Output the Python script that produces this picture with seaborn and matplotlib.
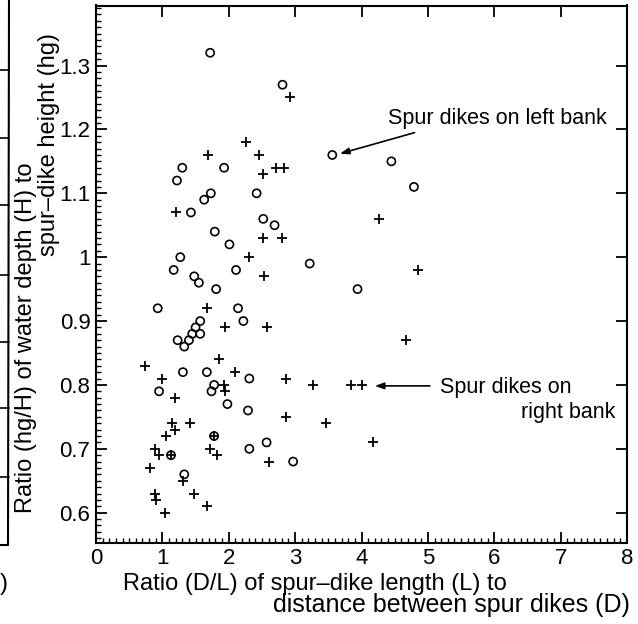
import matplotlib
matplotlib.use("Agg")
import matplotlib.pyplot as plt
from matplotlib.lines import Line2D
from matplotlib.ticker import MultipleLocator
import seaborn as sns
import pandas as pd

# Spur dikes on left bank (circles)
left_x = [1.72, 2.81, 1.30, 1.93, 1.22, 1.63, 1.73, 2.42, 1.43, 2.52, 2.69, 1.79,
          2.01, 1.27, 1.17, 1.48, 1.55, 2.11, 1.81, 3.22, 0.93, 2.14, 2.22, 1.57,
          1.50, 1.57, 1.45, 1.40, 1.23, 1.33, 1.31, 1.67, 2.31, 1.78, 1.74, 0.95,
          1.98, 2.29, 1.78, 2.57, 2.31, 1.13, 1.33, 2.97, 3.56, 4.45, 4.79, 3.94]
left_y = [1.32, 1.27, 1.14, 1.14, 1.12, 1.09, 1.10, 1.10, 1.07, 1.06, 1.05, 1.04,
          1.02, 1.00, 0.98, 0.97, 0.96, 0.98, 0.95, 0.99, 0.92, 0.92, 0.90, 0.90,
          0.89, 0.88, 0.88, 0.87, 0.87, 0.86, 0.82, 0.82, 0.81, 0.80, 0.79, 0.79,
          0.77, 0.76, 0.72, 0.71, 0.70, 0.69, 0.66, 0.68, 1.16, 1.15, 1.11, 0.95]

# Spur dikes on right bank (plus signs)
right_x = [2.93, 2.26, 1.68, 2.45, 2.71, 2.83, 2.52, 1.21, 2.52, 2.80, 2.31, 2.53,
           4.26, 4.85, 1.67, 1.95, 2.58, 4.67, 1.86, 0.74, 2.09, 1.00, 1.93, 1.94,
           1.19, 1.14, 1.42, 1.19, 1.06, 1.78, 0.89, 0.95, 1.13, 1.72, 1.83, 2.61,
           0.82, 1.31, 0.89, 0.90, 1.48, 1.67, 1.04, 2.86, 3.27, 3.84, 4.00, 2.86,
           3.46, 4.17]
right_y = [1.25, 1.18, 1.16, 1.16, 1.14, 1.14, 1.13, 1.07, 1.03, 1.03, 1.00, 0.97,
           1.06, 0.98, 0.92, 0.89, 0.89, 0.87, 0.84, 0.83, 0.82, 0.81, 0.80, 0.79,
           0.78, 0.74, 0.74, 0.73, 0.72, 0.72, 0.70, 0.69, 0.69, 0.70, 0.69, 0.68,
           0.67, 0.65, 0.63, 0.62, 0.63, 0.61, 0.60, 0.81, 0.80, 0.80, 0.80, 0.75,
           0.74, 0.71]

x_ticks = [0, 1, 2, 3, 4, 5, 6, 7, 8]
x_tick_labels = ["0", "1", "2", "3", "4", "5", "6", "7", "8"]
y_ticks = [0.6, 0.7, 0.8, 0.9, 1.0, 1.1, 1.2, 1.3]
y_tick_labels = ["0.6", "0.7", "0.8", "0.9", "1", "1.1", "1.2", "1.3"]

sns.set_theme(style="ticks", rc={
    "text.color": "black", "axes.labelcolor": "black",
    "xtick.color": "black", "ytick.color": "black",
    "axes.edgecolor": "black",
})
plt.rcParams["font.family"] = ["Liberation Sans", "DejaVu Sans"]

W, H = 638, 624
fig = plt.figure(figsize=(W / 100, H / 100), dpi=100)
fig.patch.set_facecolor("white")
ax_l, ax_r, ax_t, ax_b = 96, 627, 5.5, 542.7
ax = fig.add_axes([ax_l / W, 1 - ax_b / H, (ax_r - ax_l) / W, (ax_b - ax_t) / H])

df_left = pd.DataFrame({"DL": left_x, "hgH": left_y})
df_right = pd.DataFrame({"DL": right_x, "hgH": right_y})

sns.scatterplot(data=df_left, x="DL", y="hgH", marker="o", s=34,
                facecolor="none", edgecolor="black", linewidth=1.2, ax=ax, zorder=3)
sns.scatterplot(data=df_right, x="DL", y="hgH", marker="+", s=48,
                color="black", linewidth=1.3, ax=ax, zorder=3)

ax.set_xlim(0, 8)
ax.set_ylim(0.553, 1.394)
ax.set_xticks(x_ticks, x_tick_labels)
ax.set_yticks(y_ticks, y_tick_labels)
ax.xaxis.set_minor_locator(MultipleLocator(0.1))
ax.yaxis.set_minor_locator(MultipleLocator(0.01))
ax.tick_params(which="major", direction="in", length=8, width=1.3,
               top=True, right=True, bottom=True, left=True,
               labelsize=16, pad=4)
ax.tick_params(which="minor", direction="in", length=3.3, width=1.0,
               top=False, right=False, bottom=True, left=True)
ax.set_xlabel("")
ax.set_ylabel("")
for sp in ax.spines.values():
    sp.set_linewidth(1.5)
    sp.set_color("black")

# annotations
arrow = dict(arrowstyle="-|>,head_length=0.45,head_width=0.16", color="black",
             lw=1.2, shrinkA=0, shrinkB=0)
ax.annotate("", xy=(3.675, 1.162), xytext=(4.80, 1.195), arrowprops=arrow)
ax.text(4.40, 1.2087, "Spur dikes on left bank", fontsize=15.5,
        ha="left", va="baseline")
ax.annotate("", xy=(4.20, 0.7985), xytext=(5.03, 0.7985), arrowprops=arrow)
ax.text(5.18, 0.788, "Spur dikes on", fontsize=15.5, ha="left", va="baseline")
ax.text(7.82, 0.748, "right bank", fontsize=15.5, ha="right", va="baseline")

# axis labels (staggered two-line layout)
fig.text(122.7 / W, 1 - 590 / H, "Ratio (D/L) of spur\u2013dike length (L) to",
         fontsize=17, ha="left", va="baseline")
fig.text(630 / W, 1 - 612 / H, "distance between spur dikes (D)",
         fontsize=18, ha="right", va="baseline")
fig.text(32 / W, 1 - 513 / H, "Ratio (hg/H) of water depth (H) to",
         fontsize=17, rotation=90, rotation_mode="anchor",
         ha="left", va="baseline")
fig.text(55 / W, 1 - 33 / H, "spur\u2013dike height (hg)",
         fontsize=17, rotation=90, rotation_mode="anchor",
         ha="right", va="baseline")

# edge of neighbouring panel visible at the left border
fig.add_artist(Line2D([9 / W, 8 / W], [1.0, 1 - 545 / H], color="black",
                      lw=1.5, transform=fig.transFigure))
fig.add_artist(Line2D([0, 8 / W], [1 - 545 / H, 1 - 545 / H], color="black",
                      lw=1.5, transform=fig.transFigure))
for yy in [70, 138, 205, 275, 342, 408, 477]:
    fig.add_artist(Line2D([0, 9 / W], [1 - yy / H, 1 - yy / H], color="black",
                          lw=1.2, transform=fig.transFigure))
fig.text(8 / W, 1 - 590 / H, ")", fontsize=17, ha="right", va="baseline")

fig.savefig("out.png", dpi=100)
